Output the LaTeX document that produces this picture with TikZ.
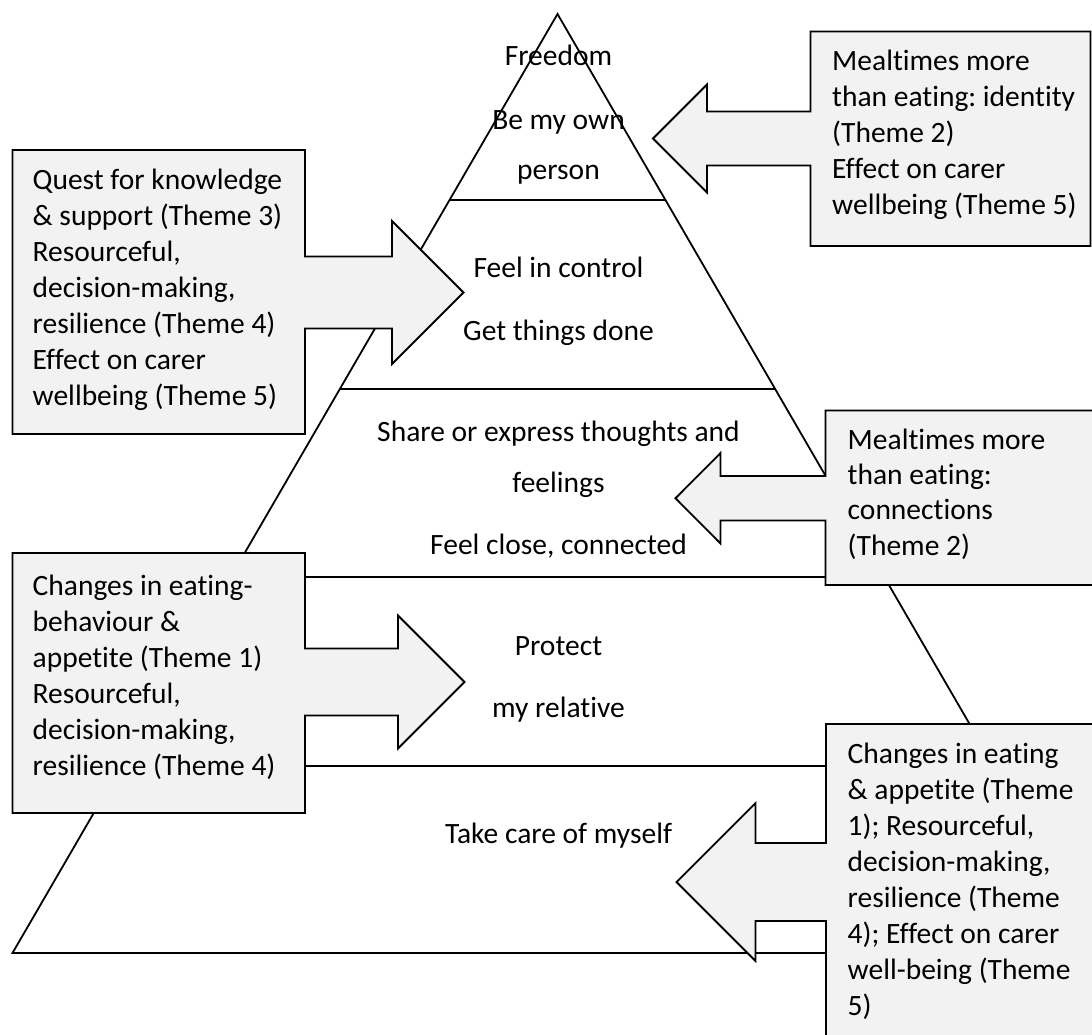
\documentclass[tikz,border=0pt]{standalone}
\usepackage{fontspec}
\setmainfont{Carlito}[Ligatures={NoCommon}]
\usetikzlibrary{calc}
\definecolor{boxgrey}{RGB}{242,242,242}
\frenchspacing
% left-aligned block of lines whose baseline is the first line
\newcommand{\linestack}[1]{\begin{tabular}[t]{@{}l@{}}#1\end{tabular}}
\begin{document}
\begin{tikzpicture}[x=1pt,y=-1pt,
  edge/.style={line width=1.8pt, line join=miter},
  callout/.style={draw, fill=boxgrey, line width=1.8pt, line join=miter},
  tiertext/.style={font=\fontsize{29.5}{36}\selectfont, inner sep=0pt, anchor=base},
  boxtext/.style={font=\fontsize{29.5}{36}\selectfont, inner sep=0pt, anchor=base west}]
\useasboundingbox (0,0) rectangle (1092,1034);
\clip (0,0) rectangle (1092,1034);

% ---- pyramid outline and tiers ----
\coordinate (apex) at (557.5,14);
\coordinate (bl) at (12.5,953);
\coordinate (br) at (1102.5,953);
\draw[edge] (apex) -- (bl) -- (br) -- cycle;
\draw[edge] ($(apex)!0.19808!(bl)$) -- ($(apex)!0.19808!(br)$);
\draw[edge] ($(apex)!0.39936!(bl)$) -- ($(apex)!0.39936!(br)$);
\draw[edge] ($(apex)!0.59957!(bl)$) -- ($(apex)!0.59957!(br)$);
\draw[edge] ($(apex)!0.80085!(bl)$) -- ($(apex)!0.80085!(br)$);

% ---- callout boxes with block arrows ----
% top right, pointing left
\draw[callout] (810.5,31.5) -- (1090.5,31.5) -- (1090.5,246) -- (810.5,246)
  -- (810.5,165.5) -- (707,165.5) -- (707,192.5) -- (653,138.5) -- (707,84.5)
  -- (707,111.5) -- (810.5,111.5) -- cycle;
% upper left, pointing right
\draw[callout] (12.5,150) -- (305,150) -- (305,256.5) -- (392,256.5) -- (392,221)
  -- (463.5,292.5) -- (392,364) -- (392,328.5) -- (305,328.5) -- (305,434)
  -- (12.5,434) -- cycle;
% middle right, pointing left
\draw[callout] (825.5,410.5) -- (1095,410.5) -- (1095,585) -- (825.5,585)
  -- (825.5,520.5) -- (720.5,520.5) -- (720.5,543.5) -- (675.5,498.25)
  -- (720.5,453) -- (720.5,476) -- (825.5,476) -- cycle;
% lower left, pointing right
\draw[callout] (12.5,553) -- (305,553) -- (305,648.5) -- (398,648.5) -- (398,615.5)
  -- (464.5,682) -- (398,748.5) -- (398,715.5) -- (305,715.5) -- (305,813)
  -- (12.5,813) -- cycle;
% bottom right, pointing left
\draw[callout] (826,724) -- (1095,724) -- (1095,1040) -- (826,1040)
  -- (826,921) -- (755.5,921) -- (755.5,961) -- (676.5,882) -- (755.5,803)
  -- (755.5,843) -- (826,843) -- cycle;

% ---- tier labels ----
\node[tiertext] (t1a) at (558.5,65) {Freedom};
\node[tiertext] (t1b) at (558.5,129) {Be my own};
\node[tiertext] (t1c) at (558.5,179) {person};
\node[tiertext] (t2a) at (558.5,277) {Feel in control};
\node[tiertext] (t2b) at (558.5,340) {Get things done};
\node[tiertext] (t3a) at (558.5,441) {Share or express thoughts and};
\node[tiertext] (t3b) at (558.5,492) {feelings};
\node[tiertext] (t3c) at (558.5,554) {Feel close, connected};
\node[tiertext] (t4a) at (558.5,655) {Protect};
\node[tiertext] (t4b) at (558.5,717) {my relative};
\node[tiertext] (t5a) at (558.5,843) {Take care of myself};

% ---- callout texts ----
\node[boxtext] (c1) at (832,70.7) {\linestack{Mealtimes more\\than eating: identity\\(Theme 2)\\Effect on carer\\wellbeing (Theme 5)}};
\node[boxtext] (c2) at (32.5,189.3) {\linestack{Quest for knowledge\\\& support (Theme 3)\\Resourceful,\\decision-making,\\resilience (Theme 4)\\Effect on carer\\wellbeing (Theme 5)}};
\node[boxtext, font=\fontsize{29.5}{35.3}\selectfont] (c3) at (847.5,449.3) {\linestack{Mealtimes more\\than eating:\\connections\\(Theme 2)}};
\node[boxtext] (c4) at (32.5,595) {\linestack{Changes in eating-\\behaviour \&\\appetite (Theme 1)\\Resourceful,\\decision-making,\\resilience (Theme 4)}};
\node[boxtext] (c5) at (847.5,763.3) {\linestack{Changes in eating\\\& appetite (Theme\\1); Resourceful,\\decision-making,\\resilience (Theme\\4); Effect on carer\\well-being (Theme\\5)}};
\end{tikzpicture}
\end{document}
